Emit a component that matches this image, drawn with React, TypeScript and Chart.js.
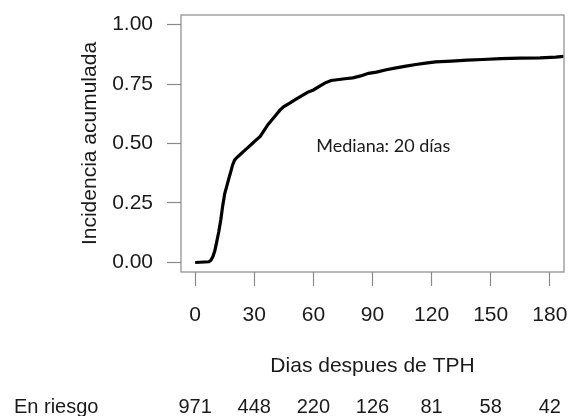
import React, { useEffect, useRef } from "react";
import { Chart, registerables } from "chart.js";

Chart.register(...registerables);

// Cumulative incidence curve (days after TPH, cumulative incidence)
const days = [0, 7, 8, 9, 10, 11, 12, 13, 14, 15, 16, 17, 18, 19, 20, 21, 23, 25, 27, 29, 31, 33, 35, 37, 39, 41, 43, 45, 48, 51, 54, 57, 60, 63, 66, 69, 72, 76, 80, 84, 88, 92, 97, 102, 107, 112, 117, 122, 130, 138, 146, 155, 165, 175, 183, 187];
const incidence = [0, 0.003, 0.01, 0.025, 0.05, 0.09, 0.13, 0.18, 0.24, 0.29, 0.32, 0.35, 0.38, 0.41, 0.43, 0.44, 0.455, 0.47, 0.485, 0.5, 0.515, 0.53, 0.555, 0.58, 0.6, 0.62, 0.64, 0.655, 0.67, 0.685, 0.7, 0.715, 0.725, 0.74, 0.755, 0.765, 0.768, 0.772, 0.776, 0.784, 0.795, 0.8, 0.81, 0.818, 0.825, 0.832, 0.838, 0.843, 0.846, 0.85, 0.853, 0.857, 0.859, 0.86, 0.863, 0.866];

const xTicks = [0, 30, 60, 90, 120, 150, 180];
const yTicks = [0, 0.25, 0.5, 0.75, 1];
const atRisk = [971, 448, 220, 126, 81, 58, 42];

const yTitle = "Incidencia acumulada";
const xTitle = "Dias despues de TPH";
const atRiskLabel = "En riesgo";
const medianLabel = "Mediana: 20 días";
const medianAt = { x: 61.5, y: 0.49 };

const FONT = "'Liberation Sans', Arial, Helvetica, sans-serif";
const TEXT = "#1a1a1a";
const GRAY = "#8a8a8a";

const extrasPlugin = {
  id: "extras",
  afterDraw(chart: any) {
    const { ctx, chartArea, scales } = chart;
    const xs = scales.x;
    const ys = scales.y;
    ctx.save();
    // box
    ctx.strokeStyle = GRAY;
    ctx.lineWidth = 1.2;
    ctx.strokeRect(chartArea.left, chartArea.top, chartArea.right - chartArea.left, chartArea.bottom - chartArea.top);
    // median annotation
    ctx.fillStyle = TEXT;
    ctx.font = "18px Lato, 'Open Sans', sans-serif";
    ctx.textAlign = "left";
    ctx.textBaseline = "middle";
    ctx.fillText(medianLabel, xs.getPixelForValue(medianAt.x), ys.getPixelForValue(medianAt.y));
    // at-risk row
    ctx.font = "20px " + FONT;
    ctx.textBaseline = "alphabetic";
    const baseY = chart.height - 3;
    ctx.textAlign = "left";
    ctx.fillText(atRiskLabel, 14, baseY);
    ctx.textAlign = "center";
    xTicks.forEach((t, i) => {
      ctx.fillText(String(atRisk[i]), xs.getPixelForValue(t), baseY);
    });
    ctx.restore();
  },
};

export default function App() {
  const ref = useRef<HTMLCanvasElement | null>(null);

  useEffect(() => {
    if (!ref.current) return;
    const chart = new Chart(ref.current, {
      type: "line",
      data: {
        datasets: [
          {
            data: days.map((d, i) => ({ x: d, y: incidence[i] })),
            borderColor: "#000000",
            borderWidth: 3.2,
            pointRadius: 0,
            stepped: false,
            tension: 0,
            fill: false,
          },
        ],
      },
      options: {
        responsive: false,
        animation: false,
        devicePixelRatio: 1,
        layout: { padding: { top: 15, right: 6, left: 0, bottom: 0 } },
        plugins: { legend: { display: false }, tooltip: { enabled: false } },
        scales: {
          x: {
            type: "linear",
            min: -7.2,
            max: 187.2,
            afterBuildTicks: (s: any) => {
              s.ticks = xTicks.map((v) => ({ value: v }));
            },
            afterFit: (s: any) => {
              s.height = 144;
              s.paddingLeft = 0;
              s.paddingRight = 0;
            },
            ticks: {
              includeBounds: false,
              autoSkip: false,
              maxRotation: 0,
              padding: 17,
              color: TEXT,
              font: { family: FONT, size: 21 },
              callback: (v: any) => String(v),
            },
            grid: {
              drawOnChartArea: false,
              drawTicks: true,
              tickLength: 14,
              tickColor: GRAY,
              tickWidth: 1.2,
            },
            border: { display: false },
            title: {
              display: true,
              text: xTitle,
              color: TEXT,
              font: { family: FONT, size: 21 },
              padding: { top: 0, bottom: 37 },
            },
          },
          y: {
            type: "linear",
            min: -0.04,
            max: 1.04,
            afterBuildTicks: (s: any) => {
              s.ticks = yTicks.map((v) => ({ value: v }));
            },
            afterFit: (s: any) => {
              s.width = 181;
              s.paddingTop = 0;
              s.paddingBottom = 0;
            },
            ticks: {
              includeBounds: false,
              autoSkip: false,
              padding: 14,
              color: TEXT,
              font: { family: FONT, size: 21 },
              callback: (v: any) => Number(v).toFixed(2),
            },
            grid: {
              drawOnChartArea: false,
              drawTicks: true,
              tickLength: 14,
              tickColor: GRAY,
              tickWidth: 1.2,
            },
            border: { display: false },
            title: {
              display: true,
              text: yTitle,
              color: TEXT,
              font: { family: FONT, size: 21 },
              padding: { top: 78, bottom: 0 },
            },
          },
        },
      },
      plugins: [extrasPlugin],
    });
    return () => chart.destroy();
  }, []);

  return (
    <div style={{ position: "fixed", left: 0, top: 0, width: 570, height: 416, background: "#fff" }}>
      <canvas ref={ref} width={570} height={416} />
    </div>
  );
}
